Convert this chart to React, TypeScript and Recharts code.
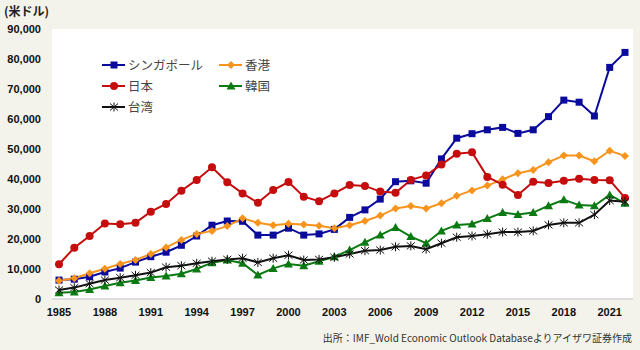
import React from 'react';
import { LineChart, Line, XAxis, YAxis, CartesianGrid } from 'recharts';

const years = [
  1985, 1986, 1987, 1988, 1989, 1990, 1991, 1992, 1993, 1994, 1995, 1996, 1997,
  1998, 1999, 2000, 2001, 2002, 2003, 2004, 2005, 2006, 2007, 2008, 2009, 2010,
  2011, 2012, 2013, 2014, 2015, 2016, 2017, 2018, 2019, 2020, 2021, 2022,
];

const singapore = [
  6300, 6600, 7400, 9000, 10300, 12300, 14100, 15600, 17900, 21000, 24600, 26000, 25900,
  21300, 21300, 23600, 21300, 21700, 23200, 27200, 29700, 33300, 39100, 39400, 38600, 46700,
  53600, 55100, 56400, 57200, 55200, 56400, 60800, 66300, 65600, 61000, 77200, 82200,
];
const hongkong = [
  6100, 6900, 8600, 10100, 11700, 13000, 15000, 17200, 19700, 21700, 22700, 24300, 26900,
  25400, 24600, 25100, 24800, 24400, 23600, 24600, 26000, 27800, 30200, 31000, 30200, 31900,
  34400, 36200, 37800, 39900, 41900, 43000, 45600, 47800, 47800, 45900, 49400, 47700,
];
const japan = [
  11600, 17100, 21000, 25200, 24900, 25400, 29100, 31700, 36100, 39700, 43900, 38900, 35200,
  32100, 36300, 39000, 34100, 32600, 35200, 38000, 37700, 35800, 35400, 39700, 41200, 44800,
  48400, 48900, 40700, 38100, 34700, 39100, 38700, 39400, 40100, 39700, 39600, 33700,
];
const korea = [
  2100, 2300, 3200, 4300, 5400, 6200, 7200, 7700, 8400, 10000, 12100, 13000, 11900,
  8000, 10200, 11700, 11100, 12600, 14100, 16300, 18900, 21300, 23800, 20800, 18600, 22700,
  24700, 25000, 26800, 28800, 28200, 28800, 31100, 33100, 31300, 31100, 34700, 31900,
];
const taiwan = [
  3000, 3800, 5100, 6300, 7100, 7900, 8800, 10600, 11100, 11900, 12600, 13200, 13600,
  12200, 13600, 14600, 13000, 13200, 13900, 15000, 16100, 16300, 17400, 17700, 16600, 18600,
  20600, 21000, 21600, 22300, 22300, 22700, 24700, 25400, 25400, 28100, 32800, 32400,
];

const yTicks = [0, 10000, 20000, 30000, 40000, 50000, 60000, 70000, 80000, 90000];

const data = years.map((y, i) => ({
  year: y,
  sg: singapore[i],
  hk: hongkong[i],
  jp: japan[i],
  kr: korea[i],
  tw: taiwan[i],
}));

const SG_COLOR = '#0a0a9c';
const HK_COLOR = '#f7941d';
const JP_COLOR = '#c50d0d';
const KR_COLOR = '#0c7a12';
const TW_COLOR = '#111111';

// marker shapes
const Square = ({ cx, cy, color }: any) => (
  <rect x={cx - 3.5} y={cy - 3.5} width={7} height={7} fill={color} />
);
const Diamond = ({ cx, cy, color }: any) => (
  <path d={`M${cx},${cy - 4}L${cx + 4},${cy}L${cx},${cy + 4}L${cx - 4},${cy}Z`} fill={color} />
);
const Circle = ({ cx, cy, color }: any) => <circle cx={cx} cy={cy} r={4} fill={color} />;
const Triangle = ({ cx, cy, color }: any) => (
  <path d={`M${cx},${cy - 4.5}L${cx + 4.5},${cy + 3.5}L${cx - 4.5},${cy + 3.5}Z`} fill={color} />
);
const Star = ({ cx, cy, color }: any) => (
  <g stroke={color} strokeWidth={1}>
    <line x1={cx} y1={cy - 4.5} x2={cx} y2={cy + 4.5} />
    <line x1={cx - 4} y1={cy - 3.5} x2={cx + 4} y2={cy + 3.5} />
    <line x1={cx - 4} y1={cy + 3.5} x2={cx + 4} y2={cy - 3.5} />
  </g>
);

const series = [
  { key: 'sg', name: 'シンガポール', color: SG_COLOR, Mark: Square },
  { key: 'hk', name: '香港', color: HK_COLOR, Mark: Diamond },
  { key: 'jp', name: '日本', color: JP_COLOR, Mark: Circle },
  { key: 'kr', name: '韓国', color: KR_COLOR, Mark: Triangle },
  { key: 'tw', name: '台湾', color: TW_COLOR, Mark: Star },
];

const LegendBox = () => (
  <div
    style={{
      position: 'absolute',
      left: 102,
      top: 56,
      display: 'grid',
      gridTemplateColumns: '117px 100px',
      rowGap: 4,
    }}
  >
    {series.map((s) => (
      <div key={s.key} style={{ display: 'flex', alignItems: 'center', height: 17 }}>
        <svg width={24} height={12} style={{ marginRight: 2 }}>
          <line x1={0} y1={6} x2={23} y2={6} stroke={s.color} strokeWidth={2} />
          <s.Mark cx={12} cy={6} color={s.color} />
        </svg>
        <span style={{ fontSize: 12.5, color: '#444' }}>{s.name}</span>
      </div>
    ))}
  </div>
);

export default function App() {
  return (
    <div
      style={{
        position: 'absolute',
        left: 0,
        top: 0,
        width: 640,
        height: 350,
        background: '#f4f3eb',
        fontFamily: '"Noto Sans CJK JP", "Liberation Sans", sans-serif',
      }}
    >
      <div style={{ position: 'absolute', left: 4, top: 2, fontSize: 12, fontWeight: 700, color: '#222' }}>
        (米ドル)
      </div>
      <LineChart
        width={640}
        height={350}
        data={data}
        margin={{ top: 29, right: 7, bottom: 21, left: 8 }}
      >
        <CartesianGrid horizontal={false} vertical={false} fill="#ffffff" />
        <XAxis
          dataKey="year"
          interval={2}
          padding={{ left: 7, right: 8 }}
          axisLine={{ stroke: '#d4d4d4', strokeWidth: 1.5 }}
          tickLine={false}
          tickSize={0}
          tickMargin={9}
          tick={{ fill: '#111', fontSize: 11, fontWeight: 700, fontFamily: '"Liberation Sans", sans-serif' }}
        />
        <YAxis
          width={44}
          domain={[0, 90000]}
          ticks={yTicks}
          axisLine={false}
          tickLine={false}
          tickSize={0}
          tickMargin={11}
          tickFormatter={(v: number) => v.toLocaleString('en-US')}
          tick={{ fill: '#111', fontSize: 11, fontWeight: 700, fontFamily: '"Liberation Sans", sans-serif' }}
        />
        {series.map((s) => (
          <Line
            key={s.key}
            dataKey={s.key}
            name={s.name}
            stroke={s.color}
            strokeWidth={2}
            isAnimationActive={false}
            dot={(p: any) => <s.Mark key={`${s.key}-${p.index}`} cx={p.cx} cy={p.cy} color={s.color} />}
            activeDot={false}
          />
        ))}
      </LineChart>
      <LegendBox />
      <div
        style={{
          position: 'absolute',
          right: 8,
          top: 330,
          fontSize: 10,
          color: '#333',
        }}
      >
        出所：IMF_Wold Economic Outlook Databaseよりアイザワ証券作成
      </div>
    </div>
  );
}
